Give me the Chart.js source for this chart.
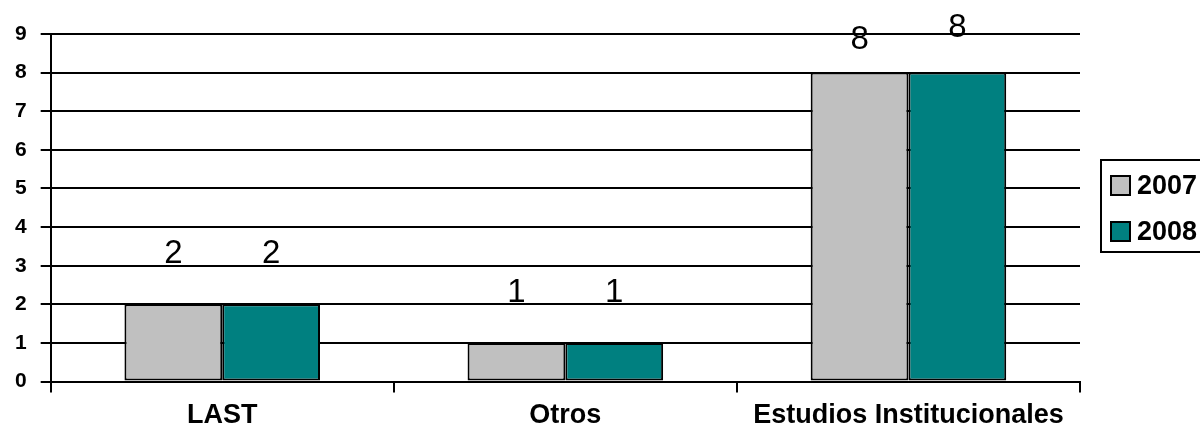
<!DOCTYPE html>
<html>
<head>
<meta charset="utf-8">
<script src="https://cdn.jsdelivr.net/npm/chart.js@4.4.0/dist/chart.umd.min.js"></script>
<style>
  html, body { margin: 0; padding: 0; background: #fff; }
  #wrap { width: 1200px; height: 439px; }
</style>
</head>
<body>
<div id="wrap"><canvas id="bars"></canvas></div>
<script>
let categories = ["LAST", "Otros", "Estudios Institucionales"];
let values2007 = [2, 1, 8];
let values2008 = [2, 1, 8];
let seriesNames = ["2007", "2008"];
let yTicks = [0, 1, 2, 3, 4, 5, 6, 7, 8, 9];

let color2007 = "rgb(192, 192, 192)";
let color2008 = "rgb(0, 128, 128)";
let narrow = "'Liberation Sans Narrow', 'Arial Narrow', 'Liberation Sans', sans-serif";

// numbers over the bars
const valueLabels = {
  id: "valueLabels",
  afterDatasetsDraw(chart) {
    const c = chart.ctx;
    c.save();
    c.font = "33px " + narrow;
    c.fillStyle = "#000";
    c.textAlign = "center";
    c.textBaseline = "middle";
    chart.data.datasets.forEach((ds, i) => {
      chart.getDatasetMeta(i).data.forEach((bar, j) => {
        let y = bar.y - 50;
        if (y < 30) y = i === 0 ? 40 : 28;
        c.fillText(ds.data[j], bar.x, y);
      });
    });
    c.restore();
  }
};

// boxed legend on the right
const boxLegend = {
  id: "boxLegend",
  afterDraw(chart) {
    const c = chart.ctx;
    const x0 = 1101, y0 = 160;
    c.save();
    c.strokeStyle = "#000";
    c.lineWidth = 2;
    c.strokeRect(x0, y0, 110, 92);
    c.font = "bold 27px " + narrow;
    c.textBaseline = "middle";
    c.textAlign = "left";
    chart.data.datasets.forEach((ds, i) => {
      const cy = 186 + i * 46;
      c.fillStyle = ds.backgroundColor;
      c.fillRect(x0 + 10, cy - 10, 19, 19);
      c.strokeRect(x0 + 10, cy - 10, 19, 19);
      c.fillStyle = "#000";
      c.fillText(ds.label, x0 + 36, cy + 1);
    });
    c.restore();
  }
};

new Chart(document.getElementById("bars"), {
  type: "bar",
  data: {
    labels: categories,
    datasets: [
      {
        label: seriesNames[0],
        data: values2007,
        backgroundColor: color2007,
        borderColor: "#000",
        borderWidth: 2,
        borderSkipped: false,
        categoryPercentage: 0.57,
        barPercentage: 1.0
      },
      {
        label: seriesNames[1],
        data: values2008,
        backgroundColor: color2008,
        borderColor: "#000",
        borderWidth: 2,
        borderSkipped: false,
        categoryPercentage: 0.57,
        barPercentage: 1.0
      }
    ]
  },
  options: {
    responsive: true,
    maintainAspectRatio: false,
    animation: false,
    layout: { padding: { top: 34, right: 120, left: 1, bottom: 0 } },
    plugins: {
      legend: { display: false },
      tooltip: { enabled: false }
    },
    scales: {
      x: {
        offset: true,
        grid: {
          display: true,
          offset: true,
          drawOnChartArea: false,
          drawTicks: true,
          tickLength: 11,
          color: "#000",
          lineWidth: 2
        },
        border: { display: true, color: "#000", width: 2 },
        ticks: {
          color: "#000",
          font: { family: narrow, size: 27, weight: "bold" },
          padding: 7
        }
      },
      y: {
        min: 0,
        max: 9,
        afterBuildTicks(axis) { axis.ticks = yTicks.map(v => ({ value: v })); },
        grid: {
          color: "#000",
          lineWidth: 2,
          drawTicks: true,
          tickLength: 10
        },
        border: { display: true, color: "#000", width: 2 },
        ticks: {
          color: "#000",
          font: { family: narrow, size: 21, weight: "bold" },
          padding: 14
        }
      }
    }
  },
  plugins: [valueLabels, boxLegend]
});
</script>
</body>
</html>
